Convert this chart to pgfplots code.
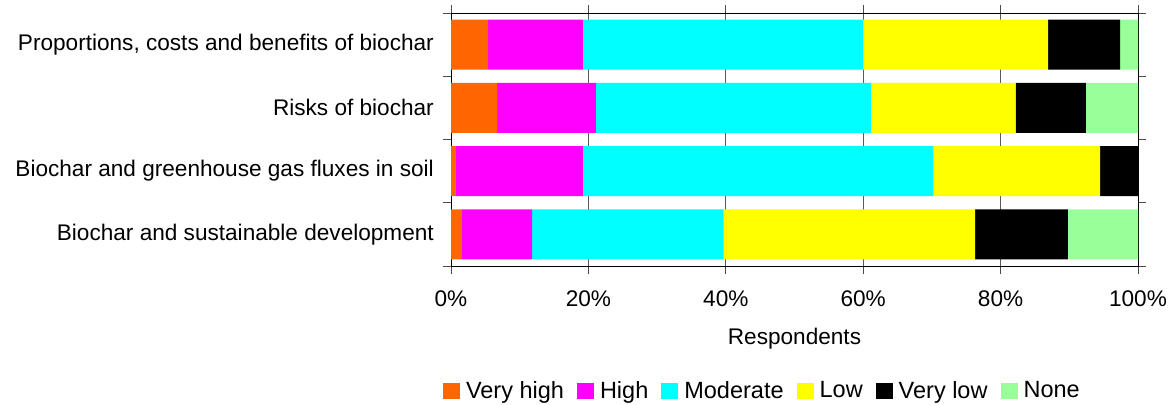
\documentclass[border=0pt]{standalone}
\usepackage{pgfplots}
\pgfplotsset{compat=1.18}
\usepackage{fontspec}
\setmainfont{Liberation Sans}
\definecolor{cVH}{HTML}{FF6600}
\definecolor{cH}{HTML}{FF00FF}
\definecolor{cM}{HTML}{00FFFF}
\definecolor{cL}{HTML}{FFFF00}
\definecolor{cVL}{HTML}{000000}
\definecolor{cN}{HTML}{99FF99}
\begin{document}
\fontsize{22.6bp}{26bp}\selectfont
\begin{tikzpicture}
\useasboundingbox (0,0) rectangle (1171bp,405bp);
\begin{axis}[
  at={(451bp,139bp)}, anchor=south west,
  scale only axis, width=687bp, height=253bp,
  xbar stacked, bar width=50bp,
  xmin=0, xmax=100, ymin=-0.5, ymax=3.5,
  xtick={0,20,40,60,80,100},
  xticklabels={0\%,20\%,40\%,60\%,80\%,100\%},
  tick align=outside, major tick length=8bp,
  xmajorgrids, major grid style={black!65, line width=1bp},
  ytick={-0.5,0.5,1.5,2.5,3.5}, yticklabels={},
  extra y ticks={0,1,2,3},
  extra y tick labels={Biochar and sustainable development,Biochar and greenhouse gas fluxes in soil,Risks of biochar,{Proportions, costs and benefits of biochar}},
  extra y tick style={tick style={draw=none}, yticklabel style={inner sep=0pt, xshift=-9bp}},
  xticklabel style={inner sep=0pt, yshift=-17bp},
  tick style={black!70, line width=1bp},
  axis line style={black, line width=1bp},
  xlabel={Respondents},
  xlabel style={inner sep=0pt, yshift=-21bp},
  legend columns=6,
  legend style={draw=none, fill=none, inner sep=0pt, outer sep=0pt,
    at={(axis description cs:-0.0116,-0.496)}, anchor=west,
    nodes={inner sep=0pt, font=\fontsize{23.5bp}{27bp}\selectfont},
    /tikz/every odd column/.append style={column sep=6bp},
    /tikz/every even column/.append style={column sep=13bp}},
  legend image code/.code={\fill[#1] (0bp,-8bp) rectangle (17bp,8bp);},
]
\addplot[fill=cVH, draw=none] coordinates {(1.6,0) (0.7,1) (6.7,2) (5.4,3)};
\addplot[fill=cH, draw=none] coordinates {(10.2,0) (18.5,1) (14.4,2) (13.8,3)};
\addplot[fill=cM, draw=none] coordinates {(27.9,0) (51.0,1) (40.0,2) (40.8,3)};
\addplot[fill=cL, draw=none] coordinates {(36.6,0) (24.3,1) (21.1,2) (26.9,3)};
\addplot[fill=cVL, draw=none] coordinates {(13.5,0) (5.5,1) (10.2,2) (10.5,3)};
\addplot[fill=cN, draw=none] coordinates {(10.2,0) (0.0,1) (7.6,2) (2.6,3)};
\legend{Very high,High,Moderate,Low,Very low,None}
\end{axis}
\end{tikzpicture}
\end{document}
